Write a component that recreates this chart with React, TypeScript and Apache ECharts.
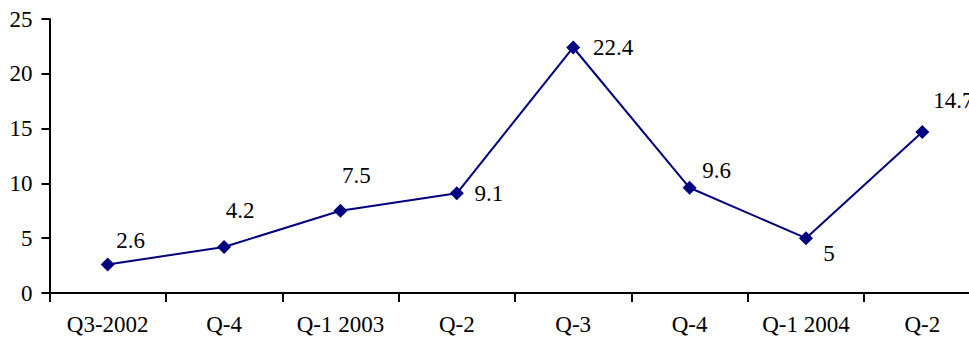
import React, { useEffect, useRef } from "react";
import * as echarts from "echarts";

const categories = ["Q3-2002", "Q-4", "Q-1 2003", "Q-2", "Q-3", "Q-4", "Q-1 2004", "Q-2"];
const values = [2.6, 4.2, 7.5, 9.1, 22.4, 9.6, 5, 14.7];
const labelOffsets: [number, number][] = [
  [23, -24],
  [16, -36],
  [16, -35],
  [32, 0],
  [40, 0],
  [27, -17],
  [23, 15],
  [31, -31],
];

const FONT = "Liberation Serif";

export default function App() {
  const ref = useRef<HTMLDivElement>(null);
  useEffect(() => {
    if (!ref.current) return;
    const chart = echarts.init(ref.current, undefined, { renderer: "svg" });
    chart.setOption({
      animation: false,
      grid: {
        left: 49.5,
        width: 931,
        top: 19,
        bottom: 47,
        containLabel: false,
        outerBoundsMode: "none",
      },
      xAxis: {
        type: "category",
        data: categories,
        boundaryGap: true,
        axisLine: { lineStyle: { color: "#000", width: 2 } },
        axisTick: { show: true, length: 9, lineStyle: { color: "#000", width: 2 } },
        axisLabel: { color: "#000", fontSize: 23, fontFamily: FONT, margin: 20, interval: 0 },
        splitLine: { show: false },
      },
      yAxis: {
        type: "value",
        min: 0,
        max: 25,
        interval: 5,
        axisLine: { show: true, lineStyle: { color: "#000", width: 2 } },
        axisTick: { show: true, length: 8, lineStyle: { color: "#000", width: 2 } },
        axisLabel: { color: "#000", fontSize: 23, fontFamily: FONT, margin: 17 },
        splitLine: { show: false },
      },
      series: [
        {
          type: "line",
          data: values.map((v, i) => ({
            value: v,
            label: {
              show: true,
              position: "inside",
              offset: labelOffsets[i],
              color: "#000",
              fontSize: 23,
              fontFamily: FONT,
            },
          })),
          symbol: "diamond",
          symbolSize: 14,
          itemStyle: { color: "#000080" },
          lineStyle: { color: "#000080", width: 2 },
          label: { show: true },
        },
      ],
    });
    return () => chart.dispose();
  }, []);
  return <div ref={ref} style={{ width: 969, height: 340, position: "absolute", left: 0, top: 0 }} />;
}
